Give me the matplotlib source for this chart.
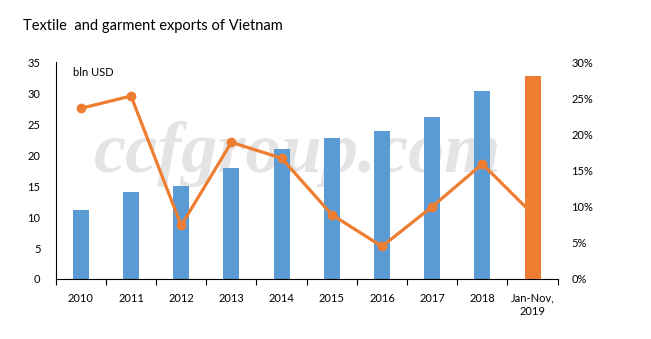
import matplotlib
matplotlib.use("Agg")
import matplotlib.pyplot as plt
import numpy as np

# ── Data ──────────────────────────────────────────────────────────
years = ["2010", "2011", "2012", "2013", "2014", "2015", "2016", "2017", "2018", "Jan-Nov,\n2019"]
exports_bln = [11.2, 14.0, 15.0, 17.9, 21.0, 22.8, 23.9, 26.1, 30.4, 32.8]
growth_pct = [23.6, 25.3, 7.4, 18.9, 16.7, 8.9, 4.5, 10.0, 15.9, 9.0]

BLUE = "#5B9BD5"
ORANGE = "#ED7D31"
FONT = "Lato"

plt.rcParams["font.family"] = [FONT, "DejaVu Sans"]

fig = plt.figure(figsize=(6.51, 3.39), dpi=100)
ax = fig.add_axes([0.0856, 0.177, 0.771, 0.640])
x = np.arange(len(years))

# watermark behind the bars
ax.text(0.458, 0.545, "ccfgroup.com", fontsize=52, family="Liberation Serif",
        style="italic", weight="bold", color="#e4e4e4", ha="center", va="center",
        transform=fig.transFigure, zorder=1)

# historical years in blue
ax.bar(x[:-1], exports_bln[:-1], width=0.32, color=BLUE, zorder=2)
ax.set_xlim(-0.5, len(years) - 0.5)
ax.set_ylim(0, 35)
ax.set_yticks(range(0, 36, 5))

# growth line on the right axis
ax2 = ax.twinx()
ax2.plot(x, growth_pct, color=ORANGE, linewidth=2.3, marker="o", markersize=6, zorder=3)
ax2.set_ylim(0, 30)
ax2.set_yticks(range(0, 31, 5))
ax2.set_yticklabels([f"{v}%" for v in range(0, 31, 5)])

# latest period bar sits on top of the line
ax3 = ax.twinx()
ax3.bar(x[-1:], exports_bln[-1:], width=0.32, color=ORANGE, zorder=4)
ax3.set_ylim(0, 35)
ax3.set_yticks([])
for s in ax3.spines.values():
    s.set_visible(False)

for a in (ax, ax2):
    a.spines["top"].set_visible(False)
ax.spines["right"].set_visible(False)
ax2.spines["right"].set_visible(False)
ax2.spines["left"].set_visible(False)
ax2.spines["bottom"].set_visible(False)
ax.spines["left"].set_color("black")
ax.spines["bottom"].set_color("black")

ax.tick_params(axis="y", length=0, labelsize=8, pad=11)
ax2.tick_params(axis="y", length=0, labelsize=8, pad=10)

# category ticks sit between the bars
ax.set_xticks(np.arange(-0.5, len(years), 1.0), minor=False)
ax.set_xticklabels([])
ax.set_xticks(x, minor=True)
ax.set_xticklabels(years, minor=True, fontsize=8)
ax.tick_params(axis="x", which="major", length=4, direction="out")
ax.tick_params(axis="x", which="minor", length=0, pad=10)

ax.text(0.035, 0.95, "bln USD", transform=ax.transAxes, fontsize=8, va="center", ha="left")

fig.text(0.035, 0.922, "Textile  and garment exports of Vietnam", fontsize=10.5, ha="left", va="center")

fig.savefig("out.png", dpi=100)
